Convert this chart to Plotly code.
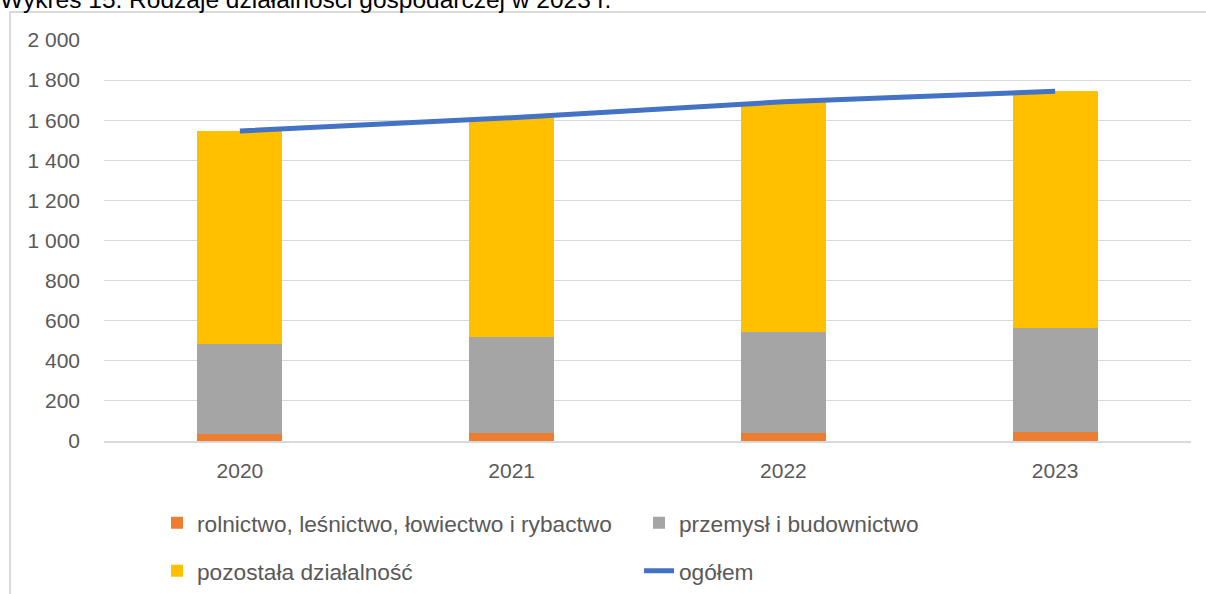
import plotly.graph_objects as go

years = ["2020", "2021", "2022", "2023"]
rolnictwo = [36, 38, 40, 47]
przemysl = [450, 483, 506, 519]
pozostala = [1060, 1091, 1146, 1178]
ogolem = [1546, 1612, 1692, 1744]

y_tickvals = [0, 200, 400, 600, 800, 1000, 1200, 1400, 1600, 1800, 2000]
y_ticktext = ["0", "200", "400", "600", "800", "1 000", "1 200", "1 400", "1 600", "1 800", "2 000"]

title_text = "Wykres 15. Rodzaje działalności gospodarczej w 2023 r."

W, H = 1206, 594
L, R, T, B = 104, 15, 40, 153
PW = W - L - R
PH = H - T - B

def px(x):
    return (x - L) / PW

def py(y):
    return (H - B - y) / PH

FONT = "Liberation Sans"
TXT = "#595959"

fig = go.Figure()
fig.add_trace(go.Bar(x=years, y=rolnictwo, name="rolnictwo, leśnictwo, łowiectwo i rybactwo",
                     marker=dict(color="#ED7D31", line=dict(width=0)), legend="legend"))
fig.add_trace(go.Bar(x=years, y=przemysl, name="przemysł i budownictwo",
                     marker=dict(color="#A5A5A5", line=dict(width=0)), legend="legend"))
fig.add_trace(go.Bar(x=years, y=pozostala, name="pozostała działalność",
                     marker=dict(color="#FFC000", line=dict(width=0)), legend="legend2"))
fig.add_trace(go.Scatter(x=years, y=ogolem, name="ogółem", mode="lines",
                         line=dict(color="#4472C4", width=5), legend="legend2"))

legend_common = dict(orientation="h", xanchor="left", yanchor="middle",
                     xref="container", yref="container",
                     font=dict(family=FONT, size=22.7, color=TXT),
                     entrywidth=437, entrywidthmode="pixels",
                     bgcolor="rgba(0,0,0,0)", traceorder="normal")

fig.update_layout(
    width=W, height=H, autosize=False,
    margin=dict(l=L, r=R, t=T, b=B, pad=0),
    paper_bgcolor="white", plot_bgcolor="white",
    barmode="stack", bargap=0.687,
    font=dict(family=FONT, size=21, color=TXT),
    legend=dict(x=157 / W, y=1 - 523 / H, **legend_common),
    legend2=dict(x=157 / W, y=1 - 571 / H, **legend_common),
    xaxis=dict(showgrid=False, showline=True, linecolor="#D9D9D9", linewidth=2,
               ticks="", tickfont=dict(family=FONT, size=21, color=TXT),
               ticklabelstandoff=10),
    yaxis=dict(range=[0, 2000], tickvals=y_tickvals, ticktext=y_ticktext,
               showgrid=True, gridcolor="#D9D9D9", gridwidth=1,
               zeroline=False, showline=False, ticks="",
               tickfont=dict(family=FONT, size=21, color=TXT),
               ticklabelstandoff=23),
    shapes=[dict(type="rect", xref="paper", yref="paper",
                 x0=px(10), x1=px(1230), y0=py(620), y1=py(12),
                 line=dict(color="#D9D9D9", width=2), fillcolor="rgba(0,0,0,0)", layer="below")],
    annotations=[dict(text=title_text, xref="paper", yref="paper",
                      x=px(-2), y=py(-0.5), xanchor="left", yanchor="middle",
                      showarrow=False, font=dict(family=FONT, size=24.5, color="#000000"))],
)

fig.write_html("out.html", config={"displayModeBar": False},
               post_script="document.body.style.margin='0';document.body.style.overflow='hidden';")
